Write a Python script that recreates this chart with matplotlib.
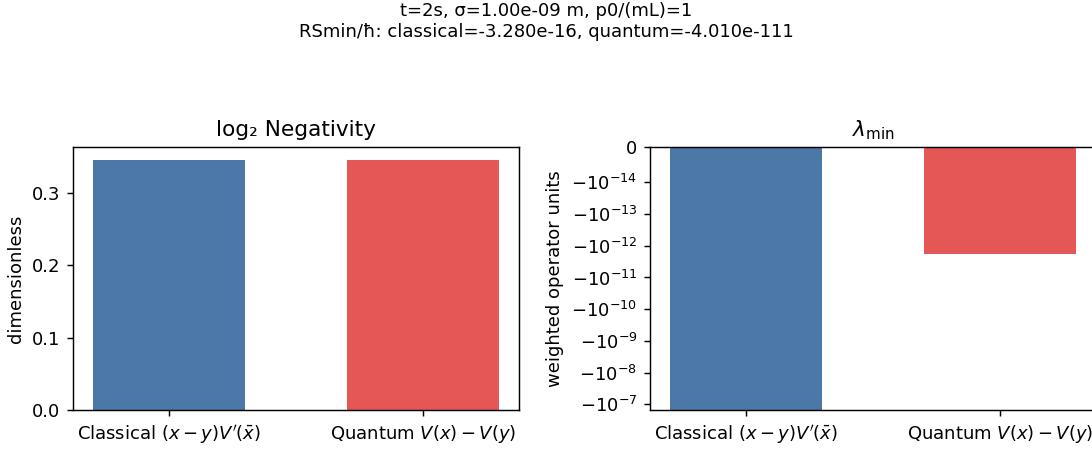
import matplotlib
matplotlib.use("Agg")
import matplotlib.pyplot as plt
import numpy as np

categories = ["Classical $(x-y)V'(\\bar{x})$", "Quantum $V(x)-V(y)$"]
log_negativity = [0.3466, 0.3466]
lambda_min = [-1.5e-7, -1.8e-12]
colors = ["#4c78a8", "#e45756"]

suptitle = ("t=2s, σ=1.00e-09 m, p0/(mL)=1\n"
            "RSmin/ħ: classical=-3.280e-16, quantum=-4.010e-111")

fig = plt.figure(figsize=(1092 / 130, 450 / 130), dpi=130)
ax1 = fig.add_axes([73 / 1092, 40 / 450, 446 / 1092, 263 / 450])
ax2 = fig.add_axes([650 / 1092, 40 / 450, 446 / 1092, 263 / 450])

x = np.arange(len(categories))
ax1.bar(x, log_negativity, width=0.6, color=colors)
ax1.set_xticks(x)
ax1.set_xticklabels(categories)
ax1.set_ylabel("dimensionless")
ax1.set_title("log₂ Negativity")

ax2.bar(x, lambda_min, width=0.6, color=colors)
ax2.set_yscale("symlog", linthresh=1e-14)
ax2.set_ylim(min(lambda_min), 0)
ax2.yaxis.set_minor_locator(matplotlib.ticker.NullLocator())
ax2.set_xticks(x)
ax2.set_xticklabels(categories)
ax2.set_ylabel("weighted operator units")
ax2.set_title("$\\lambda_{\\min}$")

fig.suptitle(suptitle, fontsize=10, y=0.995)
fig.savefig("out.png", dpi=130)
